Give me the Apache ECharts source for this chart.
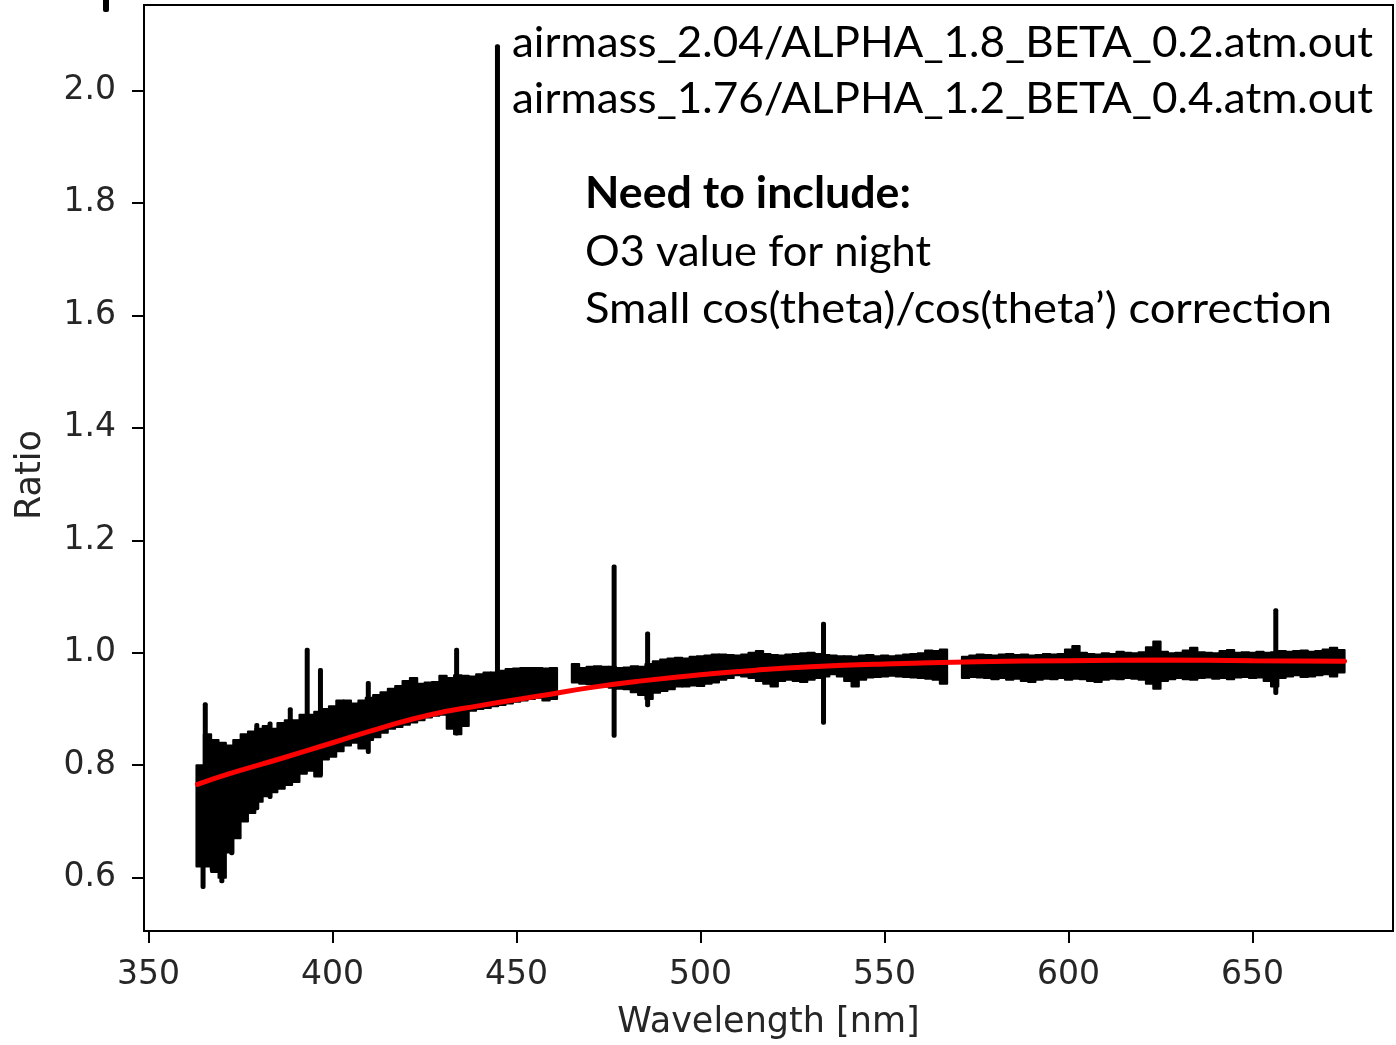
<!DOCTYPE html>
<html><head><meta charset="utf-8">
<script src="https://cdn.jsdelivr.net/npm/echarts@6/dist/echarts.min.js"></script>
<style>html,body{margin:0;padding:0;background:#fff}#c{width:1396px;height:1045px}</style>
</head><body><div id="c"></div>
<script>
// ---- spectrum envelope (2 nm bins): wavelength, lower edge, upper edge of the black band
const binWl = [
 364,366,368,370,372,374,376,378,380,382,
 384,386,388,390,392,394,396,398,400,402,
 404,406,408,410,412,414,416,418,420,422,
 424,426,428,430,432,434,436,438,440,442,
 444,446,448,450,452,454,456,458,460,
 466,468,470,472,474,476,478,480,482,484,
 486,488,490,492,494,496,498,500,502,504,
 506,508,510,512,514,516,518,520,522,524,
 526,528,530,532,534,536,538,540,542,544,
 546,548,550,552,554,556,558,560,562,564,566,
 572,574,576,578,580,582,584,586,588,590,
 592,594,596,598,600,602,604,606,608,610,
 612,614,616,618,620,622,624,626,628,630,
 632,634,636,638,640,642,644,646,648,650,
 652,654,656,658,660,662,664,666,668,670,672,674
];
const binLow = [
 .62,.62,.61,.60,.645,.67,.70,.715,.735,.745,
 .752,.758,.765,.77,.785,.79,.78,.81,.815,.825,
 .835,.84,.83,.845,.85,.858,.865,.868,.872,.876,
 .88,.885,.888,.89,.865,.855,.87,.897,.90,.902,
 .905,.907,.91,.913,.915,.918,.92,.915,.918,
 .947,.945,.944,.942,.94,.938,.936,.935,.93,.925,
 .918,.929,.932,.935,.94,.94,.942,.941,.945,.947,
 .952,.955,.96,.958,.955,.95,.945,.94,.95,.952,
 .95,.948,.952,.955,.958,.962,.958,.95,.94,.952,
 .956,.957,.958,.959,.958,.957,.956,.955,.954,.952,.945,
 .955,.957,.956,.955,.953,.955,.952,.954,.95,.948,
 .952,.954,.953,.955,.952,.954,.953,.95,.948,.952,
 .954,.953,.955,.954,.952,.945,.936,.95,.953,.955,
 .953,.952,.955,.956,.954,.955,.953,.956,.957,.955,
 .956,.95,.94,.955,.958,.96,.957,.958,.96,.962,.958,.965
];
const binHigh = [
 .80,.855,.845,.84,.835,.845,.855,.86,.865,.87,
 .865,.875,.88,.88,.89,.89,.895,.90,.905,.915,
 .915,.91,.915,.92,.925,.93,.936,.941,.95,.955,
 .945,.947,.948,.959,.955,.96,.959,.958,.962,.965,
 .965,.968,.971,.972,.973,.973,.973,.972,.973,
 .98,.973,.975,.976,.975,.975,.973,.974,.976,.975,
 .98,.985,.988,.99,.991,.99,.993,.994,.995,.997,
 .997,.996,.995,.997,1.0,1.003,.998,.996,.995,.997,
 .998,.999,1.0,.998,.996,.995,.994,.994,.993,.995,
 .996,.994,.995,.994,.995,.997,.998,.999,1.004,1.003,1.006,
 .993,.995,.997,.996,.995,.997,.998,.996,.997,.995,
 .996,.998,.997,.998,1.006,1.012,1.0,.998,.997,.999,
 .998,1.002,1.0,.999,1.001,1.01,1.02,1.002,.999,1.0,
 1.004,1.009,1.001,1.0,.999,1.003,1.005,1.0,1.001,1.0,
 1.002,1.0,1.001,1.003,1.002,1.003,1.004,1.002,1.003,1.006,1.009,1.005
];
// ---- narrow spikes: wavelength, bottom, top
const spikeWl   = [364.8, 365.4, 367.3, 369.9, 372.6, 379.4, 383.0, 388.5, 393.1, 396.7, 409.7, 433.7, 444.8, 476.5, 485.6, 533.4, 656.3];
const spikeLow  = [0.58,  0.62,  0.61,  0.59,  0.64,  0.72,  0.74,  0.80,  0.80,  0.78,  0.82,  0.853, 0.92,  0.849, 0.903, 0.872, 0.925];
const spikeHigh = [0.75,  0.912, 0.75,  0.75,  0.80,  0.875, 0.878, 0.903, 1.009, 0.973, 0.95,  1.009, 2.082, 1.157, 1.038, 1.055, 1.079];
// ---- red fit curve
const fitWl  = [363.3, 372, 386, 400, 413, 426, 440, 456, 470, 484, 500, 515, 530, 550, 575, 600, 625, 650, 675];
const fitVal = [0.766, 0.785, 0.812, 0.840, 0.866, 0.889, 0.906, 0.923, 0.938, 0.950, 0.961, 0.969, 0.975, 0.980, 0.984, 0.986, 0.987, 0.986, 0.985];
// ---- ticks
const xTicks = [350, 400, 450, 500, 550, 600, 650];
const yTicks = [0.6, 0.8, 1.0, 1.2, 1.4, 1.6, 1.8, 2.0];
// ---- annotation texts
const noteLines = [
  'airmass_2.04/ALPHA_1.8_BETA_0.2.atm.out',
  'airmass_1.76/ALPHA_1.2_BETA_0.4.atm.out',
  'Need to include:',
  'O3 value for night',
  'Small cos(theta)/cos(theta\u2019) correction'
];
const noteBold = [false, false, true, false, false];
const noteLeft = [512, 512, 585, 585, 585];
const noteRight = [1373, 1373, 911, 931, 1332];
const noteBase = [57, 113, 208, 266, 323];

const NOTE_FONT = 'Lato';
const NOTE_SIZE = 43;
const mc = document.createElement('canvas').getContext('2d');
const noteGraphics = noteLines.map((t, i) => {
  const font = (noteBold[i] ? 'bold ' : '') + NOTE_SIZE + 'px ' + NOTE_FONT;
  mc.font = font;
  const w = mc.measureText(t).width;
  return {
    type: 'text', x: noteLeft[i], y: noteBase[i] - NOTE_SIZE * 0.33,
    scaleX: (noteRight[i] - noteLeft[i]) / w, z: 100,
    style: { text: t, font: font, fill: '#000', align: 'left', verticalAlign: 'middle' }
  };
});

const chart = echarts.init(document.getElementById('c'), null, { renderer: 'canvas' });
const tickFont = { fontFamily: 'DejaVu Sans', fontSize: 33, color: '#262626' };
chart.setOption({
  animation: false,
  backgroundColor: '#fff',
  grid: { left: 144, top: 5, width: 1249, height: 930, show: true, borderColor: '#000', borderWidth: 2, backgroundColor: 'transparent' },
  xAxis: {
    type: 'value', min: 348.75, max: 688.15,
    name: 'Wavelength [nm]', nameLocation: 'middle', nameGap: 74,
    nameTextStyle: { fontFamily: 'DejaVu Sans', fontSize: 35, color: '#262626' },
    axisLine: { show: true, lineStyle: { color: '#000', width: 2 } },
    axisTick: { show: true, inside: false, length: 12, lineStyle: { color: '#000', width: 2 }, customValues: xTicks },
    axisLabel: Object.assign({ margin: 28, customValues: xTicks, formatter: v => String(v) }, tickFont),
    splitLine: { show: false }
  },
  yAxis: {
    type: 'value', min: 0.5053, max: 2.1517,
    name: 'Ratio', nameLocation: 'middle', nameGap: 96,
    nameTextStyle: { fontFamily: 'DejaVu Sans', fontSize: 35, color: '#262626', padding: [0, 14, 0, 0] },
    axisLine: { show: true, lineStyle: { color: '#000', width: 2 } },
    axisTick: { show: true, inside: false, length: 12, lineStyle: { color: '#000', width: 2 }, customValues: yTicks },
    axisLabel: Object.assign({ margin: 28, customValues: yTicks, formatter: v => v.toFixed(1) }, tickFont),
    splitLine: { show: false }
  },
  graphic: [
    { type: 'rect', shape: { x: 103, y: 0, width: 6, height: 12, r: [0, 0, 2, 2] }, style: { fill: '#000' } }
  ].concat(noteGraphics),
  series: [
    {
      type: 'custom', name: 'band', clip: true, z: 2,
      data: binWl.map((w, i) => [w, binLow[i], binHigh[i]]),
      encode: { x: 0, y: [1, 2] },
      renderItem: function (params, api) {
        const w = api.value(0);
        const p1 = api.coord([w - 1, api.value(2)]);
        const p2 = api.coord([w + 1, api.value(1)]);
        return { type: 'rect', shape: { x: p1[0], y: p1[1], width: p2[0] - p1[0], height: p2[1] - p1[1] },
                 style: { fill: '#000', stroke: '#000', lineWidth: 2, lineJoin: 'round' } };
      }
    },
    {
      type: 'custom', name: 'spikes', clip: true, z: 3,
      data: spikeWl.map((w, i) => [w, spikeLow[i], spikeHigh[i]]),
      encode: { x: 0, y: [1, 2] },
      renderItem: function (params, api) {
        const top = api.coord([api.value(0), api.value(2)]);
        const bot = api.coord([api.value(0), api.value(1)]);
        return { type: 'rect', shape: { x: top[0] - 2.5, y: top[1], width: 5, height: bot[1] - top[1], r: 2 },
                 style: { fill: '#000' } };
      }
    },
    {
      type: 'line', name: 'fit', z: 5, smooth: 0.5, showSymbol: false, symbol: 'none',
      data: fitWl.map((w, i) => [w, fitVal[i]]),
      lineStyle: { color: '#ff0000', width: 5, cap: 'round' }
    }
  ]
});
</script>
</body></html>
